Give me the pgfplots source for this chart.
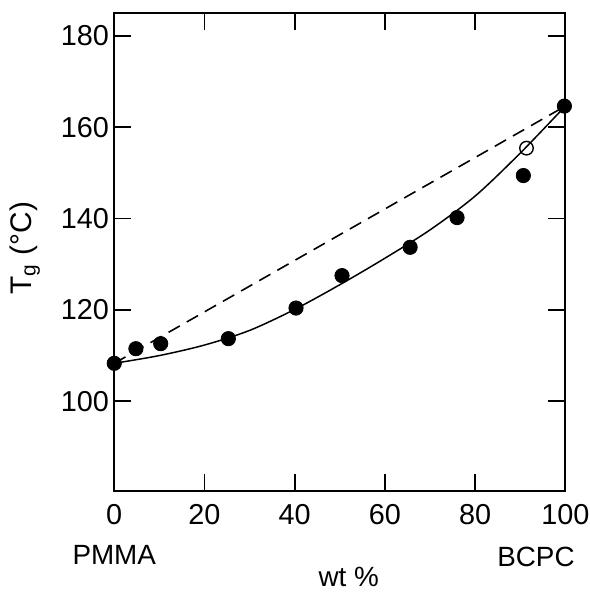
\documentclass[border=0pt]{standalone}
\usepackage{fontspec}
\setmainfont{Liberation Sans}
\usepackage{pgfplots}
\pgfplotsset{compat=1.18}
\begin{document}
\begin{tikzpicture}
\begin{axis}[
  scale only axis, width=227pt, height=240.5pt,
  xmin=0, xmax=100, ymin=80.4, ymax=185,
  xtick={0,20,...,100}, ytick={100,120,...,180},
  tick align=inside, major tick length=8.5pt,
  axis line style={line width=1pt},
  tick style={line width=0.9pt, black},
  every tick label/.append style={font=\fontsize{14.5}{16}\selectfont},
  /pgf/number format/assume math mode=true,
  xticklabel style={anchor=base, yshift=-17pt, inner sep=0pt},
  yticklabel style={anchor=east, xshift=-2.5pt, inner sep=0pt},
  clip=false,
]
% ideal mixing line
\addplot[black, line width=0.8pt, dash pattern=on 6.5pt off 4pt]
  coordinates {(0,108.3) (100,164.6)};
% fitted curve
\addplot[black, line width=0.75pt, smooth] coordinates {
  (0,108.3) (10,110.0) (20,112.3) (30,115.5) (40,120.1) (50,125.5)
  (60,131.3) (70,137.5) (80,144.9) (90,154.3) (100,164.6)};
% measured
\addplot[only marks, mark=*, mark size=3.6pt, black] coordinates {
  (0,108.3) (4.8,111.5) (10.3,112.6) (25.3,113.7) (40.3,120.4)
  (50.5,127.5) (65.6,133.7) (76,140.2) (90.7,149.4) (99.8,164.6)};
\addplot[only marks, mark=o, mark size=3.4pt, black,
  mark options={fill=white, line width=0.7pt}] coordinates {(91.4,155.4)};
\coordinate (bl) at (rel axis cs:0,0);
\coordinate (tr) at (rel axis cs:1,1);
\node[anchor=base, font=\fontsize{14}{16}\selectfont] at ([yshift=-37pt]axis cs:0,80.4) {PMMA};
\node[anchor=base, font=\fontsize{14}{16}\selectfont] at ([yshift=-38pt]axis cs:93.5,80.4) {BCPC};
\node[anchor=base, font=\fontsize{14}{16}\selectfont] at ([yshift=-48pt]axis cs:52,80.4) {wt \%};
\node[rotate=90, font=\fontsize{15}{17}\selectfont] at ([xshift=-45pt]axis cs:0,133.5) {T\textsubscript{g} (°C)};
\end{axis}
\path (bl) ++(-57.5pt,-49.5pt) rectangle ([shift={(12pt,6.5pt)}]tr);
\end{tikzpicture}
\end{document}
